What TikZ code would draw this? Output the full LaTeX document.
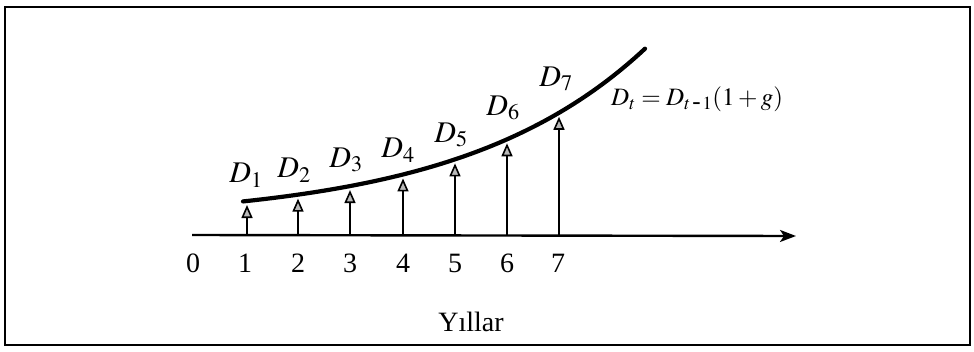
\documentclass[tikz,border=0pt]{standalone}
\usepackage{mathptmx}
\usepackage{fontspec}
\setmainfont{Liberation Serif}
\usetikzlibrary{arrows.meta}
\begin{document}
\begin{tikzpicture}[x=1pt,y=-1pt,
  vec/.style={line width=2.1pt, -{Triangle[open, fill=gray!55, length=13pt, width=11pt, line width=1.6pt]}},
  axis/.style={line width=2.4pt, -{Stealth[length=16pt, width=12pt, inset=4pt]}},
  curve/.style={line width=4.2pt, line cap=round},
  frame/.style={line width=2.8pt},
  num/.style={font=\fontsize{28}{32}\selectfont, inner sep=0pt, anchor=center},
  dlab/.style={font=\fontsize{30}{34}\selectfont, inner sep=0pt, anchor=center}]
\useasboundingbox (0,0) rectangle (974,351);
\draw[frame] (5,7) rectangle (970,345);
% axis
\coordinate (o) at (192,235);
\coordinate (xe) at (796,236);
\draw[axis] (o) -- (xe);
% curve
\draw[curve] plot[domain=243:645, samples=80] (\x, {235-(14+20*1.325^((\x-247)/52))});
% base points and tips (tips just below the curve)
\foreach \i/\x in {1/247, 2/298, 3/350, 4/403, 5/455, 6/507, 7/559}{
  \coordinate (b\i) at (\x,235);
  \coordinate (t\i) at (\x,{235-(14+20*1.325^((\x-247)/52))+4});
  \draw[vec] (b\i) -- (t\i);
}
% tick labels
\foreach \i/\x in {0/193, 1/245, 2/298, 3/350, 4/403, 5/455, 6/507, 7/558}{
  \node[num] (n\i) at (\x,263) {\i};
}
\node[num] (yl) at (471,322) {Yıllar};
% D labels
\node[dlab] (d1) at (246,175) {$D_1$};
\node[dlab] (d2) at (294,170) {$D_2$};
\node[dlab] (d3) at (346,160) {$D_3$};
\node[dlab] (d4) at (398,150) {$D_4$};
\node[dlab] (d5) at (451,135) {$D_5$};
\node[dlab] (d6) at (503,108) {$D_6$};
\node[dlab] (d7) at (556,79) {$D_7$};
\node[dlab, anchor=west, font=\fontsize{25}{28}\selectfont] (f) at (611,99) {$D_t = D_{t\,\mbox{-}\,1}(1 + g)$};
\end{tikzpicture}
\end{document}
